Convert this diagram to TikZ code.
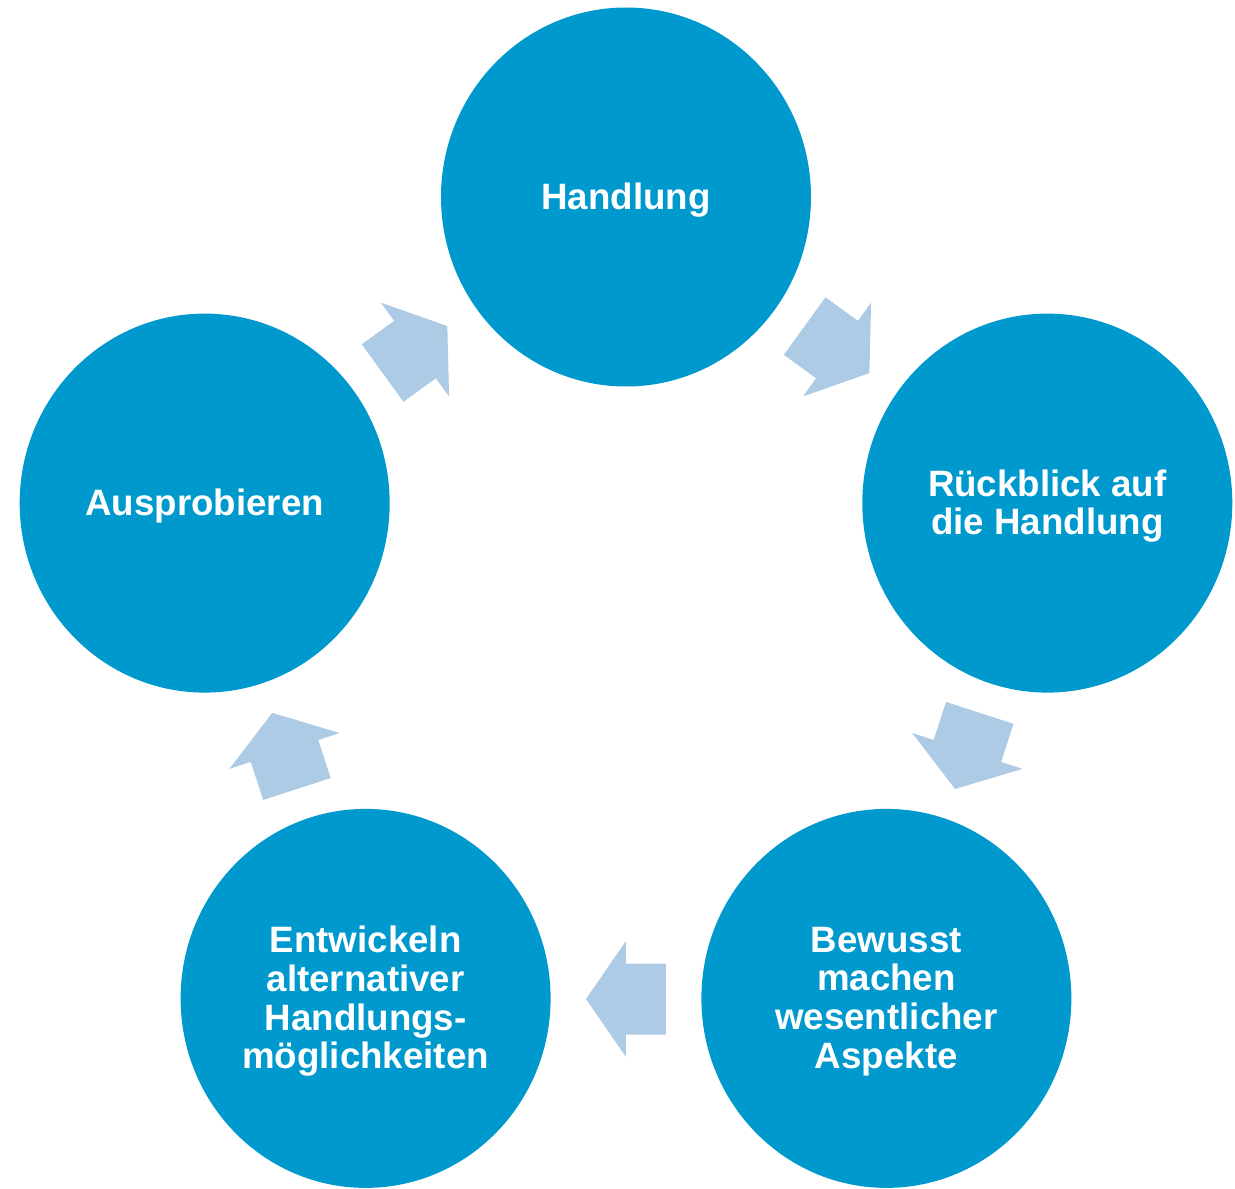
\documentclass[tikz,border=0pt]{standalone}
\usepackage{fontspec}
\usetikzlibrary{shapes.geometric}
\setmainfont{Liberation Sans}
\definecolor{circblue}{HTML}{0099CE}
\definecolor{arrblue}{HTML}{ADCBE5}
\begin{document}
\begin{tikzpicture}[x=1pt,y=1pt,
  stage/.style={ellipse, fill=circblue, minimum width=370pt, minimum height=379pt, inner sep=0pt},
  stagetext/.style={text=white, align=center, yshift=-3pt,
    font=\fontsize{36.7}{38.7}\selectfont\bfseries},
  blockarrow/.style={fill=arrblue, draw=none}]
\useasboundingbox (-626,640) rectangle (609,-549);
\node[stage, label={[stagetext]center:Handlung}] (s1) at (90:443) {};
\node[stage, label={[stagetext]center:Rückblick auf\\die Handlung}] (s2) at (18:443) {};
\node[stage, label={[stagetext]center:Bewusst\\machen\\wesentlicher\\Aspekte}] (s3) at (-54:443) {};
\node[stage, label={[stagetext]center:Entwickeln\\alternativer\\Handlungs-\\möglichkeiten}] (s4) at (-126:443) {};
\node[stage, label={[stagetext]center:Ausprobieren}] (s5) at (162:443) {};
\foreach \phi/\nm in {54/a1,-18/a2,-90/a3,-162/a4,126/a5}{
  \coordinate (\nm) at (\phi:359);
  \fill[blockarrow, shift={(\nm)}, rotate=\phi-90]
    (-40,35.5) -- (0,35.5) -- (0,58) -- (40,0) -- (0,-58) -- (0,-35.5) -- (-40,-35.5) -- cycle;
}
\end{tikzpicture}
\end{document}
